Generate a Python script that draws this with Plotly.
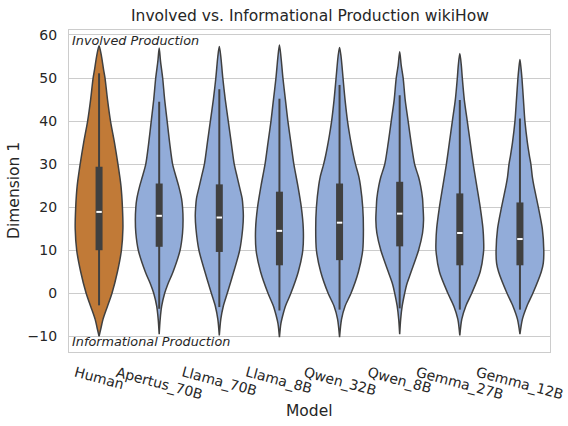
import plotly.graph_objects as go

# ---------------- data ----------------
models = ["Human", "Apertus_70B", "Llama_70B", "Llama_8B",
          "Qwen_32B", "Qwen_8B", "Gemma_27B", "Gemma_12B"]

# KDE outline: y levels and relative density at each level
human_y = [57.5, 55, 52, 50, 45, 40, 35, 30, 25, 20, 15, 10, 5, 0, -3, -6, -8, -10]
human_d = [0, 2.5, 4.5, 6, 8.5, 11.5, 15.5, 19, 22, 23.5, 24, 22.5, 18.5, 13, 8.5, 4, 2, 0]

apertus70_y = [57, 54, 50, 45, 40, 35, 30, 27, 25, 22, 20, 17, 14, 10, 5, 2, 0, -3, -6, -9.5]
apertus70_d = [0, 1.3, 3.5, 5.5, 8, 10.5, 13.5, 17, 19.5, 22.5, 23.5, 24, 23.5, 21, 14, 8.5, 5.5, 2.5, 1, 0]

llama70_y = [57.3, 55, 50, 45, 40, 35, 30, 27, 25, 22, 20, 18, 15, 10, 5, 0, -3, -6, -9.8]
llama70_d = [0, 1.5, 3.5, 6, 9, 12, 15, 18, 20, 23, 23.8, 24.2, 23.5, 20.5, 14.5, 8, 4, 1.5, 0]

llama8_y = [57.7, 55, 50, 45, 40, 35, 30, 25, 20, 15, 10, 5, 0, -3, -5, -7, -10.2]
llama8_d = [0, 1.5, 3.5, 6, 8.5, 11.5, 14.5, 18.5, 22, 24, 23.5, 19, 11.5, 6, 3.5, 1.5, 0]

qwen32_y = [57.1, 55, 50, 45, 40, 37, 35, 32, 30, 27, 25, 20, 15, 10, 5, 0, -3, -6, -10.2]
qwen32_d = [0, 1.5, 3.5, 5.5, 8, 10, 11.5, 14, 16, 19.5, 21, 23.3, 24, 23.3, 19, 11.5, 5.5, 2, 0]

qwen8_y = [56.1, 53, 50, 45, 40, 35, 30, 27, 25, 22, 20, 17, 14, 10, 5, 2, 0, -3, -6, -9.5]
qwen8_d = [0, 1.5, 3.5, 5.5, 8.5, 11.5, 15, 19, 21, 23, 23.5, 24, 23, 19, 11.5, 7, 5, 2.5, 1, 0]

gemma27_y = [55.7, 53, 50, 45, 40, 35, 30, 25, 20, 15, 12, 10, 5, 0, -3, -6, -9.8]
gemma27_d = [0, 1.5, 2.5, 4.5, 7.5, 10.5, 13.5, 17, 20.5, 23.3, 24, 24, 20.5, 12, 6, 2, 0]

gemma12_y = [54.3, 52, 50, 45, 40, 35, 32, 30, 27, 25, 20, 15, 10, 7, 5, 0, -3, -6, -9.5]
gemma12_d = [0, 1.2, 2, 3.5, 5, 7.5, 9.5, 11, 12.5, 14, 18.5, 22.5, 24, 23.5, 21.5, 13, 7, 2.5, 0]

violin_y = [human_y, apertus70_y, llama70_y, llama8_y, qwen32_y, qwen8_y, gemma27_y, gemma12_y]
violin_d = [human_d, apertus70_d, llama70_d, llama8_d, qwen32_d, qwen8_d, gemma27_d, gemma12_d]

# box statistics
whisker_lo = [-2.8, -3.6, -3.2, -4.0, -3.8, -3.5, -3.8, -3.8]
q1 = [10.0, 10.8, 9.6, 6.5, 7.7, 10.9, 6.5, 6.5]
median = [18.9, 18.0, 17.6, 14.5, 16.4, 18.5, 14.0, 12.6]
q3 = [29.4, 25.5, 25.3, 23.6, 25.5, 25.9, 23.2, 21.1]
whisker_hi = [51.1, 44.5, 47.4, 45.2, 48.4, 46.0, 44.9, 40.6]

y_ticks = [-10, 0, 10, 20, 30, 40, 50, 60]

# ---------------- styling ----------------
HUMAN_COLOR = "#c17a37"
MODEL_COLOR = "#92acd9"
EDGE = "#404040"
TEXT = "#262626"
GRID = "#cccccc"
FONT = "DejaVu Sans"
HALF_WIDTH = 0.4

fig = go.Figure()
dmax = max(max(d) for d in violin_d)

for i, (ys, ds) in enumerate(zip(violin_y, violin_d)):
    right = [i + d / dmax * HALF_WIDTH for d in ds]
    left = [i - d / dmax * HALF_WIDTH for d in ds]
    xs = right + left[::-1]
    yy = list(ys) + list(ys)[::-1]
    fig.add_trace(go.Scatter(
        x=xs, y=yy, mode="lines", fill="toself",
        fillcolor=HUMAN_COLOR if i == 0 else MODEL_COLOR,
        line=dict(color=EDGE, width=1.5, shape="spline", smoothing=0.8),
        hoverinfo="skip", showlegend=False))

for i in range(len(models)):
    fig.add_trace(go.Scatter(x=[i, i], y=[whisker_lo[i], whisker_hi[i]], mode="lines",
                             line=dict(color=EDGE, width=2), hoverinfo="skip", showlegend=False))
    fig.add_trace(go.Scatter(x=[i, i], y=[q1[i], q3[i]], mode="lines",
                             line=dict(color=EDGE, width=7), hoverinfo="skip", showlegend=False))
    fig.add_trace(go.Scatter(x=[i - 0.045, i + 0.045], y=[median[i], median[i]], mode="lines",
                             line=dict(color="white", width=2), hoverinfo="skip", showlegend=False))

annotations = []
for i, m in enumerate(models):
    annotations.append(dict(x=i, y=0, xref="x", yref="paper", text=m, showarrow=False,
                            textangle=15, xanchor="center", yanchor="top", yshift=-9,
                            font=dict(family=FONT, size=14, color=TEXT)))

annotations += [
    dict(x=0.5, y=1, xref="paper", yref="paper", text="Involved vs. Informational Production wikiHow",
         showarrow=False, xanchor="center", yanchor="middle", yshift=14,
         font=dict(family=FONT, size=15.5, color=TEXT)),
    dict(x=0.5, y=0, xref="paper", yref="paper", text="Model", showarrow=False,
         xanchor="center", yanchor="middle", yshift=-59,
         font=dict(family=FONT, size=15.5, color=TEXT)),
    dict(x=0, y=0.5, xref="paper", yref="paper", text="Dimension 1", showarrow=False,
         textangle=-90, xanchor="center", yanchor="middle", xshift=-55,
         font=dict(family=FONT, size=15.5, color=TEXT)),
    dict(x=0.003, y=0.997, xref="paper", yref="paper", text="<i>Involved Production</i>",
         showarrow=False, xanchor="left", yanchor="top",
         font=dict(family=FONT, size=12.8, color=TEXT)),
    dict(x=0.003, y=0.003, xref="paper", yref="paper", text="<i>Informational Production</i>",
         showarrow=False, xanchor="left", yanchor="bottom",
         font=dict(family=FONT, size=12.8, color=TEXT)),
]

fig.update_layout(
    width=568, height=426,
    margin=dict(l=69, r=18, t=30, b=74, autoexpand=False),
    paper_bgcolor="white", plot_bgcolor="white",
    font=dict(family=FONT, color=TEXT),
    annotations=annotations,
    showlegend=False,
    hovermode=False,
    xaxis=dict(range=[-0.5, 7.5], showgrid=False, zeroline=False, showticklabels=False,
               showline=True, mirror=True, linecolor=GRID, linewidth=1.25, ticks=""),
    yaxis=dict(range=[-13.64, 61.16], tickvals=y_ticks, showgrid=True, gridcolor=GRID,
               gridwidth=1, zeroline=False, showline=True, mirror=True, linecolor=GRID,
               linewidth=1.25, ticks="outside", ticklen=8, tickcolor="rgba(0,0,0,0)",
               tickfont=dict(family=FONT, size=14, color=TEXT)),
)

fig.write_html("out.html", config={"displayModeBar": False},
               post_script="document.body.style.margin='0';document.body.style.padding='0';")
